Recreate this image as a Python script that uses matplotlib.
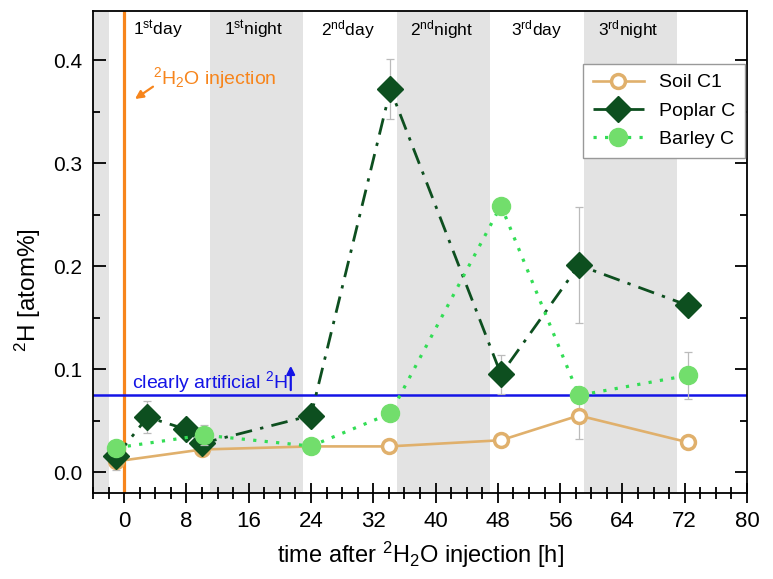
import numpy as np
import matplotlib
matplotlib.use("Agg")
import matplotlib.pyplot as plt
from matplotlib.ticker import MultipleLocator

plt.rcParams['font.family'] = ['Liberation Sans', 'DejaVu Sans']
plt.rcParams['mathtext.default'] = 'regular'

# sampling times [h] and 2H values [atom%]
soil_t = [-1, 10, 24, 34, 48.4, 58.4, 72.4]
soil_v = [0.0105, 0.022, 0.025, 0.025, 0.031, 0.055, 0.029]
soil_e = [0.008, 0.006, 0.004, 0.004, 0.003, 0.023, 0.004]

poplar_t = [-1, 3, 8, 10, 24, 34.2, 48.4, 58.4, 72.4]
poplar_v = [0.0155, 0.0535, 0.0415, 0.028, 0.055, 0.372, 0.095, 0.201, 0.162]
poplar_e = [0.008, 0.0155, 0.008, 0.006, 0.004, 0.029, 0.019, 0.0565, 0.004]

barley_t = [-1, 10.2, 24, 34.2, 48.4, 58.4, 72.4]
barley_v = [0.0237, 0.036, 0.0253, 0.057, 0.259, 0.0746, 0.094]
barley_e = [0.005, 0.01, 0.005, 0.005, 0.004, 0.005, 0.0225]

# night periods (start, end) [h]
nights = [(-4, -2), (11, 23), (35, 47), (59, 71)]
period_labels = ['1$^{st}$day', '1$^{st}$night', '2$^{nd}$day',
                 '2$^{nd}$night', '3$^{rd}$day', '3$^{rd}$night']
period_x = [4.3, 16.6, 28.8, 40.8, 53.0, 64.8]

threshold = 0.075

fig = plt.figure(figsize=(7.73, 5.79), dpi=100)
ax = fig.add_axes([0.1203, 0.149, 0.8461, 0.832])

for a, b in nights:
    ax.axvspan(a, b, color='#e3e3e3', lw=0, zorder=0)

for x, lab in zip(period_x, period_labels):
    ax.text(x, 0.430, lab, ha='center', va='center', fontsize=12.5)

ax.axvline(0, color='#f7851c', lw=2.3, zorder=2)
ax.axhline(threshold, color='#1414e6', lw=1.8, zorder=2)

ax.text(3.7, 0.383, '$^{2}$H$_{2}$O injection', color='#f7851c',
        fontsize=14, ha='left', va='center')
ax.annotate('', xy=(1.1, 0.361), xytext=(4.0, 0.376),
            arrowprops=dict(arrowstyle='-|>', color='#f7851c', lw=1.6,
                            mutation_scale=12))
ax.text(1.0, 0.088, 'clearly artificial $^{2}$H', color='#1414e6',
        fontsize=14, ha='left', va='center')
ax.annotate('', xy=(21.4, 0.106), xytext=(21.4, 0.077),
            arrowprops=dict(arrowstyle='-|>', color='#1414e6', lw=1.6,
                            mutation_scale=12))

ekw = dict(ecolor='#bbbbbb', elinewidth=0.9, capsize=3, capthick=0.9)

ax.errorbar(soil_t, soil_v, yerr=soil_e, fmt='none', zorder=3, **ekw)
ax.plot(soil_t, soil_v, '-o', color='#e0b06c', lw=1.9, ms=10,
        mfc='white', mec='#e0b06c', mew=2.5, zorder=4, label='Soil C1')

ax.errorbar(poplar_t, poplar_v, yerr=poplar_e, fmt='none', zorder=5, **ekw)
ax.plot(poplar_t, poplar_v, 'D', color='#0d4f1f', ls=(0, (6, 3, 1.2, 3)),
        lw=2.0, ms=13, zorder=6, label='Poplar C')

ax.errorbar(barley_t, barley_v, yerr=barley_e, fmt='none', zorder=7, **ekw)
ax.plot(barley_t, barley_v, 'o', color='#33dd55', ls=(0, (1, 2.6)),
        lw=2.3, ms=13, mfc='#72de6c', mec='#72de6c', zorder=8,
        label='Barley C')

ax.set_xlim(-4, 80)
ax.set_ylim(-0.02, 0.448)
ax.xaxis.set_major_locator(MultipleLocator(8))
ax.xaxis.set_minor_locator(MultipleLocator(2))
ax.yaxis.set_major_locator(MultipleLocator(0.1))
ax.yaxis.set_minor_locator(MultipleLocator(0.05))
ax.yaxis.set_major_formatter(plt.FormatStrFormatter('%.1f'))

ax.tick_params(axis='x', which='major', direction='inout', length=14,
               width=1.3, labelsize=16, pad=6)
ax.tick_params(axis='x', which='minor', direction='inout', length=9,
               width=1.3)
ax.tick_params(axis='y', which='both', direction='in', right=True,
               width=1.3, labelsize=15, pad=8)
ax.tick_params(axis='y', which='major', length=9)
ax.tick_params(axis='y', which='minor', length=5)
for sp in ax.spines.values():
    sp.set_linewidth(1.3)

ax.set_xlabel('time after $^{2}$H$_{2}$O injection [h]', fontsize=17,
              labelpad=6)
ax.set_ylabel('$^{2}$H [atom%]', fontsize=17.5)
ax.yaxis.set_label_coords(-0.076, 0.42)

leg = ax.legend(loc='upper right', bbox_to_anchor=(0.997, 0.89),
                fontsize=14, handlelength=2.6, fancybox=False,
                framealpha=1, edgecolor='#999999', borderpad=0.5,
                labelspacing=0.55, borderaxespad=0)
leg.get_frame().set_linewidth(1.0)

plt.savefig('out.png', dpi=100)
